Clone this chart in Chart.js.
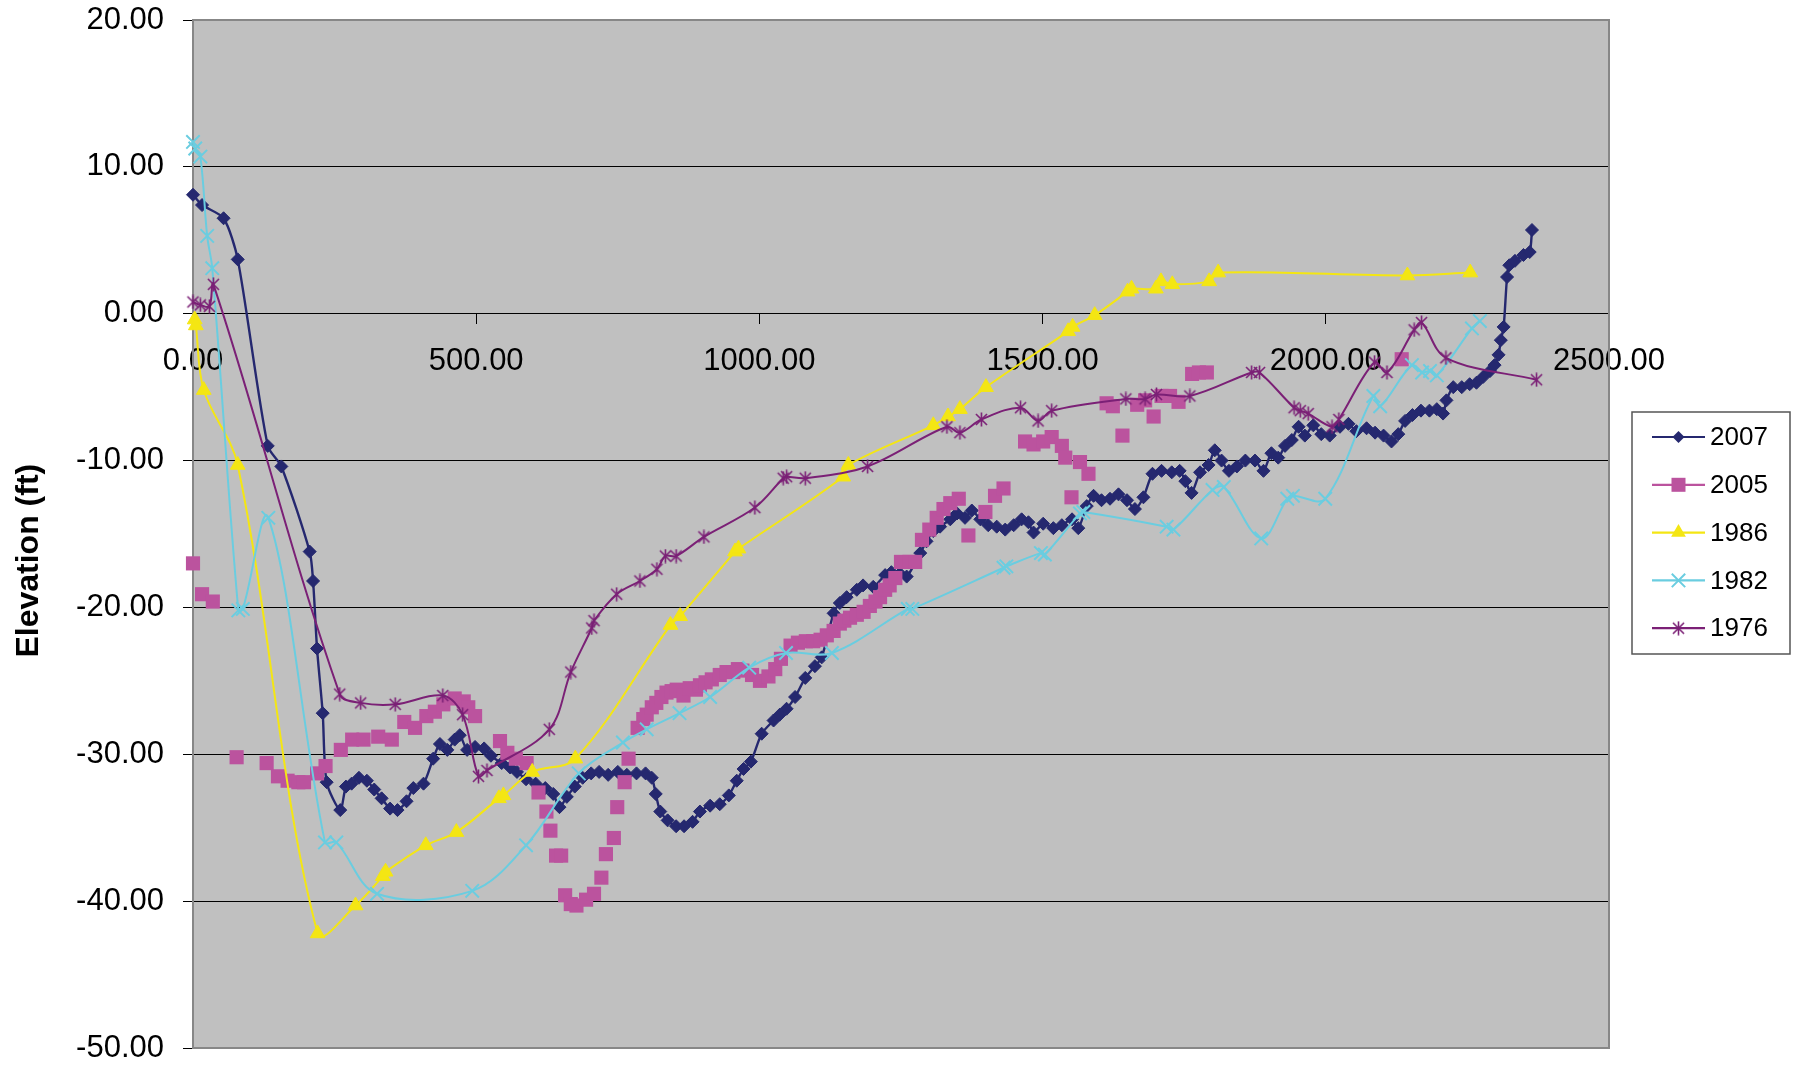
<!DOCTYPE html>
<html>
<head>
<meta charset="utf-8">
<script src="https://cdn.jsdelivr.net/npm/chart.js@4/dist/chart.umd.min.js"></script>
<style>
html,body{margin:0;padding:0;background:#fff;overflow:hidden}
#wrap{position:relative;width:1799px;height:1068px}
</style>
</head>
<body>
<div id="wrap"><canvas id="c" width="1799" height="1068"></canvas></div>
<script>
// ---------------- DATA ----------------
const seriesNames = ['2007', '2005', '1986', '1982', '1976'];
const xTickValues = [0, 500, 1000, 1500, 2000, 2500];
const yTickValues = [20, 10, 0, -10, -20, -30, -40, -50];
const yAxisTitle = 'Elevation (ft)';

const s2007 = [[0,8.1],[16,7.4],[54,6.5],[79,3.7],[132,-9.0],[156,-10.4],[206,-16.2],[212,-18.2],[219,-22.8],[229,-27.2],[236,-31.9],[260,-33.8],[270,-32.2],[280,-32.0],[293,-31.6],[307,-31.8],[320,-32.4],[333,-33.0],[348,-33.7],[361,-33.8],[377,-33.2],[389,-32.3],[407,-32.0],[424,-30.3],[436,-29.3],[449,-29.7],[462,-29.0],[471,-28.7],[484,-29.7],[498,-29.5],[514,-29.6],[526,-30.1],[545,-30.6],[560,-30.9],[572,-31.2],[588,-31.7],[605,-32.0],[622,-32.3],[636,-32.7],[647,-33.6],[660,-32.9],[674,-32.2],[688,-31.6],[703,-31.3],[717,-31.2],[733,-31.4],[750,-31.2],[766,-31.4],[783,-31.3],[799,-31.3],[810,-31.6],[817,-32.7],[825,-33.9],[838,-34.5],[853,-34.9],[867,-34.9],[882,-34.6],[895,-33.9],[913,-33.5],[930,-33.4],[946,-32.8],[960,-31.8],[972,-31.0],[985,-30.5],[1004,-28.6],[1025,-27.7],[1036,-27.3],[1048,-26.9],[1063,-26.1],[1081,-24.8],[1098,-24.0],[1110,-23.4],[1131,-20.4],[1142,-19.7],[1154,-19.3],[1172,-18.8],[1183,-18.5],[1201,-18.6],[1222,-17.8],[1233,-17.6],[1248,-17.7],[1260,-17.9],[1284,-16.3],[1295,-15.5],[1307,-14.8],[1319,-14.5],[1337,-14.0],[1349,-13.6],[1363,-13.9],[1375,-13.4],[1390,-14.0],[1404,-14.4],[1419,-14.5],[1434,-14.7],[1449,-14.4],[1463,-14.0],[1475,-14.2],[1484,-14.9],[1501,-14.3],[1519,-14.6],[1534,-14.4],[1552,-14.0],[1563,-14.6],[1578,-13.1],[1590,-12.4],[1604,-12.7],[1619,-12.6],[1634,-12.3],[1649,-12.7],[1663,-13.3],[1678,-12.5],[1694,-10.9],[1710,-10.7],[1728,-10.8],[1742,-10.7],[1752,-11.4],[1763,-12.2],[1778,-10.8],[1793,-10.3],[1804,-9.3],[1816,-10.0],[1829,-10.7],[1843,-10.4],[1858,-10.0],[1875,-10.0],[1890,-10.7],[1904,-9.5],[1916,-9.8],[1928,-9.0],[1940,-8.6],[1952,-7.7],[1963,-8.3],[1978,-7.6],[1992,-8.2],[2007,-8.3],[2025,-7.7],[2040,-7.5],[2054,-8.0],[2072,-7.8],[2087,-8.1],[2102,-8.3],[2116,-8.7],[2128,-8.2],[2140,-7.3],[2153,-6.9],[2168,-6.6],[2183,-6.6],[2196,-6.5],[2207,-6.8],[2213,-5.9],[2225,-5.0],[2240,-5.0],[2254,-4.8],[2266,-4.7],[2278,-4.3],[2290,-3.9],[2298,-3.5],[2305,-2.8],[2309,-1.8],[2314,-0.9],[2320,2.5],[2324,3.3],[2334,3.6],[2349,4.0],[2360,4.2],[2364,5.7]];

const s2005 = [[0,-17.0],[16,-19.1],[35,-19.6],[77,-30.2],[130,-30.6],[150,-31.5],[167,-31.8],[186,-31.9],[196,-31.9],[219,-31.3],[234,-30.8],[261,-29.7],[281,-29.0],[301,-29.0],[327,-28.8],[351,-29.0],[373,-27.8],[392,-28.2],[412,-27.4],[427,-27.1],[442,-26.6],[462,-26.2],[478,-26.4],[486,-26.8],[498,-27.4],[542,-29.1],[555,-29.9],[570,-30.3],[589,-30.6],[610,-32.6],[624,-33.9],[631,-35.2],[641,-36.9],[650,-36.9],[657,-39.6],[667,-40.2],[677,-40.3],[694,-39.9],[708,-39.5],[721,-38.4],[729,-36.8],[743,-35.7],[749,-33.6],[762,-31.9],[769,-30.3],[785,-28.2],[795,-27.6],[801,-27.3],[810,-26.8],[818,-26.5],[827,-26.1],[836,-25.8],[845,-25.7],[854,-25.6],[866,-26.0],[877,-25.5],[888,-25.6],[895,-25.3],[905,-25.1],[916,-24.9],[930,-24.6],[942,-24.4],[954,-24.4],[962,-24.2],[970,-24.3],[987,-24.6],[1001,-25.0],[1016,-24.7],[1028,-24.2],[1038,-23.5],[1055,-22.6],[1068,-22.4],[1082,-22.3],[1095,-22.3],[1108,-22.2],[1119,-21.9],[1131,-21.6],[1142,-21.1],[1150,-20.9],[1160,-20.7],[1172,-20.5],[1184,-20.3],[1195,-19.9],[1205,-19.6],[1213,-19.3],[1222,-18.8],[1230,-18.5],[1240,-18.0],[1250,-16.9],[1265,-16.9],[1275,-16.9],[1287,-15.4],[1300,-14.7],[1313,-13.9],[1325,-13.3],[1337,-12.9],[1352,-12.6],[1369,-15.1],[1399,-13.5],[1416,-12.4],[1431,-11.9],[1469,-8.7],[1484,-8.9],[1501,-8.7],[1516,-8.4],[1534,-9.0],[1540,-9.8],[1551,-12.5],[1566,-10.1],[1581,-10.9],[1613,-6.1],[1624,-6.3],[1641,-8.3],[1667,-6.2],[1681,-5.9],[1696,-7.0],[1710,-5.6],[1725,-5.6],[1740,-6.0],[1764,-4.1],[1776,-4.0],[1790,-4.0],[2134,-3.1]];

const s1986 = [[3,-0.4],[5,-0.8],[19,-5.2],[79,-10.3],[220,-42.2],[287,-40.3],[335,-38.3],[340,-38.0],[411,-36.2],[465,-35.3],[540,-33.0],[548,-32.8],[599,-31.2],[675,-30.3],[843,-21.2],[860,-20.6],[957,-16.2],[963,-16.0],[1148,-11.1],[1157,-10.3],[1307,-7.6],[1333,-7.0],[1354,-6.5],[1400,-5.0],[1545,-1.2],[1553,-0.9],[1592,-0.1],[1650,1.5],[1657,1.7],[1700,1.7],[1709,2.2],[1729,2.0],[1794,2.2],[1810,2.8],[2144,2.6],[2255,2.8]];

const s1982 = [[0,11.7],[4,11.25],[13,10.7],[25,5.3],[34,3.1],[80,-20.2],[88,-20.1],[133,-13.9],[233,-36.0],[253,-36.0],[325,-39.5],[493,-39.3],[588,-36.2],[681,-31.3],[759,-29.2],[801,-28.3],[859,-27.2],[913,-26.1],[982,-24.1],[1047,-23.1],[1128,-23.1],[1262,-20.1],[1270,-20.1],[1431,-17.3],[1436,-17.2],[1497,-16.3],[1504,-16.4],[1566,-13.6],[1572,-13.5],[1719,-14.5],[1731,-14.7],[1800,-12.0],[1820,-11.8],[1886,-15.3],[1932,-12.6],[1942,-12.4],[1999,-12.6],[2084,-5.6],[2096,-6.3],[2152,-3.5],[2170,-4.0],[2184,-3.9],[2196,-4.2],[2258,-1.0],[2272,-0.5]];

const s1976 = [[0,0.8],[13,0.6],[29,0.5],[36,2.0],[259,-25.9],[296,-26.5],[357,-26.6],[441,-26.0],[476,-27.3],[504,-31.5],[519,-31.1],[629,-28.3],[667,-24.4],[704,-21.4],[708,-20.9],[748,-19.1],[789,-18.2],[819,-17.4],[834,-16.5],[853,-16.5],[902,-15.2],[992,-13.2],[1042,-11.2],[1048,-11.1],[1081,-11.2],[1191,-10.4],[1331,-7.7],[1354,-8.1],[1392,-7.2],[1461,-6.4],[1492,-7.3],[1516,-6.6],[1647,-5.8],[1681,-5.8],[1701,-5.5],[1760,-5.6],[1869,-4.0],[1883,-4.0],[1944,-6.4],[1955,-6.6],[1969,-6.8],[2011,-7.7],[2023,-7.2],[2086,-3.3],[2108,-4.0],[2156,-1.1],[2169,-0.6],[2212,-3.0],[2372,-4.5]];

// ---------------- STYLES ----------------
const FONT = "'Liberation Sans', Arial, Helvetica, sans-serif";
const colors = {
  '2007': '#25286f',
  '2005': '#bb539e',
  '1986': '#f4e613',
  '1982': '#6acde0',
  '1976': '#7b2076'
};

function asteriskCanvas(color, size, lw) {
  const c = document.createElement('canvas');
  c.width = size; c.height = size;
  const g = c.getContext('2d');
  g.strokeStyle = color; g.lineWidth = lw;
  const m = size / 2, d = size / 2 - 1, e = d * 0.85;
  g.beginPath();
  g.moveTo(m - e, m - e); g.lineTo(m + e, m + e);
  g.moveTo(m + e, m - e); g.lineTo(m - e, m + e);
  g.moveTo(m, m - d - 0.5); g.lineTo(m, m + d + 0.5);
  g.stroke();
  return c;
}
const starImg = asteriskCanvas(colors['1976'], 15, 1.6);

const toXY = arr => arr.map(p => ({x: p[0], y: p[1]}));

const markerStyle = {
  '2007': {pointStyle: 'rectRot', pointRadius: 6.5, pointBorderWidth: 1},
  '2005': {pointStyle: 'rect', pointRadius: 10, pointBorderWidth: 0},
  '1986': {pointStyle: 'triangle', pointRadius: 8.5, pointBorderWidth: 1},
  '1982': {pointStyle: 'crossRot', pointRadius: 9.5, pointBorderWidth: 2},
  '1976': {pointStyle: starImg, pointRadius: 7, pointBorderWidth: 1}
};

const seriesData = {'2007': s2007, '2005': s2005, '1986': s1986, '1982': s1982, '1976': s1976};

const datasets = seriesNames.map((name, i) => Object.assign({
  label: name,
  data: toXY(seriesData[name]),
  showLine: name !== '2005',
  borderColor: colors[name],
  backgroundColor: colors[name],
  pointBackgroundColor: colors[name],
  pointBorderColor: colors[name],
  borderWidth: name === '2007' ? 2.4 : 2,
  tension: name === '2007' ? 0.25 : 0.35,
  clip: 16,
  order: seriesNames.length - i
}, markerStyle[name]));

// ---------------- PLUGINS ----------------
const plotDecor = {
  id: 'plotDecor',
  beforeDraw(chart) {
    const {ctx, chartArea: a} = chart;
    ctx.save();
    ctx.fillStyle = '#ffffff';
    ctx.fillRect(0, 0, chart.width, chart.height);
    ctx.fillStyle = '#c0c0c0';
    ctx.fillRect(a.left, a.top, a.right - a.left, a.bottom - a.top);
    ctx.restore();
  },
  beforeDatasetsDraw(chart) {
    const {ctx, chartArea: a} = chart;
    ctx.save();
    ctx.strokeStyle = '#878787';
    ctx.lineWidth = 2;
    ctx.strokeRect(a.left, a.top, a.right - a.left, a.bottom - a.top);
    ctx.restore();
  }
};

function drawLegendMarker(ctx, name, x, y) {
  const col = colors[name];
  ctx.save();
  ctx.fillStyle = col; ctx.strokeStyle = col;
  ctx.beginPath();
  if (name === '2007') {
    const r = 6;
    ctx.moveTo(x - r, y); ctx.lineTo(x, y - r); ctx.lineTo(x + r, y); ctx.lineTo(x, y + r); ctx.closePath(); ctx.fill();
  } else if (name === '2005') {
    ctx.fillRect(x - 7, y - 7, 14, 14);
  } else if (name === '1986') {
    const r = 8.5;
    ctx.moveTo(x, y - r); ctx.lineTo(x + r * 0.866, y + r / 2); ctx.lineTo(x - r * 0.866, y + r / 2); ctx.closePath(); ctx.fill();
  } else if (name === '1982') {
    const d = 6.7;
    ctx.lineWidth = 2;
    ctx.moveTo(x - d, y - d); ctx.lineTo(x + d, y + d); ctx.moveTo(x + d, y - d); ctx.lineTo(x - d, y + d); ctx.stroke();
  } else {
    ctx.drawImage(starImg, x - starImg.width / 2, y - starImg.height / 2);
  }
  ctx.restore();
}

const boxLegend = {
  id: 'boxLegend',
  afterDraw(chart) {
    const ctx = chart.ctx;
    const bx = 1632, by = 412, bw = 158, bh = 242;
    ctx.save();
    ctx.fillStyle = '#ffffff';
    ctx.fillRect(bx, by, bw, bh);
    ctx.strokeStyle = '#555555';
    ctx.lineWidth = 1.5;
    ctx.strokeRect(bx, by, bw, bh);
    const y0 = 437, dy = 47.8;
    seriesNames.forEach((name, i) => {
      const y = y0 + i * dy;
      ctx.strokeStyle = colors[name];
      ctx.lineWidth = 2.2;
      ctx.beginPath(); ctx.moveTo(1652, y); ctx.lineTo(1705, y); ctx.stroke();
      drawLegendMarker(ctx, name, 1678.5, y);
      ctx.fillStyle = '#000';
      ctx.font = '26px ' + FONT;
      ctx.textAlign = 'left';
      ctx.textBaseline = 'middle';
      ctx.fillText(name, 1710, y + 1);
    });
    ctx.restore();
  }
};

// ---------------- CHART ----------------
const tickFont = {family: FONT, size: 31};

new Chart(document.getElementById('c'), {
  type: 'scatter',
  data: {datasets},
  options: {
    responsive: false,
    animation: false,
    devicePixelRatio: 1,
    layout: {padding: {left: 0, top: 20, right: 190, bottom: 20}},
    plugins: {legend: {display: false}, tooltip: {enabled: false}, title: {display: false}},
    events: [],
    scales: {
      x: {
        type: 'linear',
        position: {y: 0},
        min: 0, max: 2500,
        afterBuildTicks: s => { s.ticks = xTickValues.map(v => ({value: v})); },
        afterFit: s => { s.height = 0; s.paddingTop = 0; s.paddingBottom = 0; },
        ticks: {
          callback: v => Number(v).toFixed(2),
          font: tickFont, color: '#000', padding: 19,
          maxRotation: 0, minRotation: 0, autoSkip: false
        },
        grid: {drawOnChartArea: false, drawTicks: true, tickLength: 10, tickColor: '#000', lineWidth: 1},
        border: {display: true, color: '#000', width: 1}
      },
      y: {
        type: 'linear',
        position: 'left',
        min: -50, max: 20,
        afterBuildTicks: s => { s.ticks = yTickValues.map(v => ({value: v})); },
        afterFit: s => { s.width = 193; s.paddingTop = 0; s.paddingBottom = 0; },
        ticks: {
          callback: v => Number(v).toFixed(2),
          font: tickFont, color: '#000', padding: 19, autoSkip: false
        },
        grid: {color: '#000', lineWidth: 1, drawTicks: true, tickLength: 10, tickColor: '#000'},
        border: {display: false},
        title: {
          display: true,
          text: yAxisTitle + '      ',
          color: '#000',
          font: {family: FONT, size: 32, weight: 'bold'},
          padding: {top: 10, bottom: 0}
        }
      }
    }
  },
  plugins: [plotDecor, boxLegend]
});
</script>
</body>
</html>
